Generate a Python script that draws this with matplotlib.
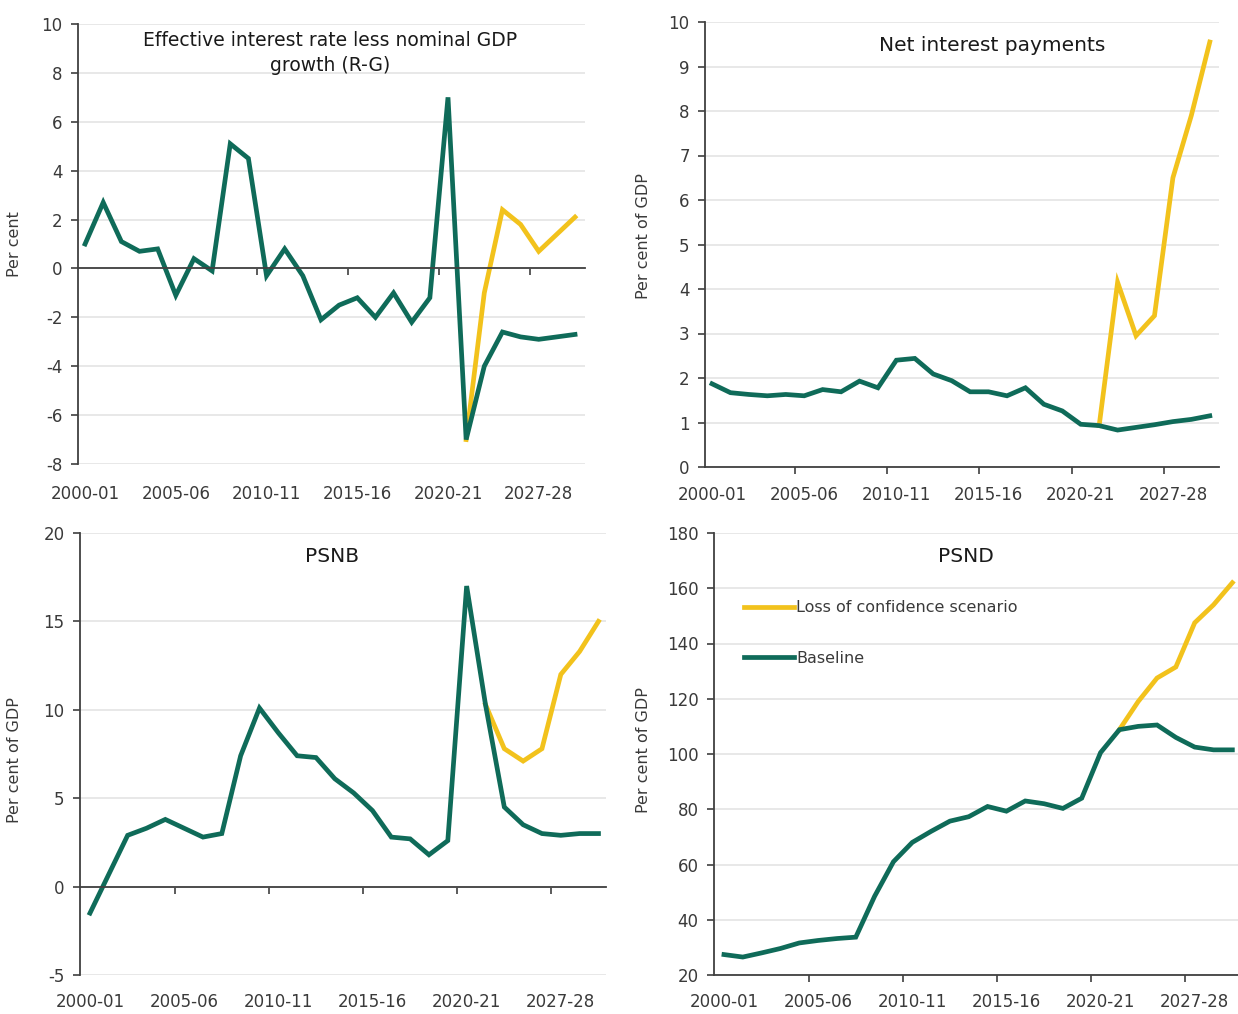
import matplotlib
matplotlib.use('Agg')
import matplotlib.pyplot as plt
import numpy as np

plt.rcParams['font.family'] = ['DejaVu Sans']
plt.rcParams['axes.unicode_minus'] = False

# Data (28 annual categories, only some are labelled)
n_years = 28
tick_pos = [0, 5, 10, 15, 20, 25]
tick_labels = ['2000-01', '2005-06', '2010-11', '2015-16', '2020-21', '2027-28']
nan = np.nan

rg_base = [1.0, 2.7, 1.1, 0.7, 0.8, -1.1, 0.4, -0.1, 5.1, 4.5, -0.3, 0.8, -0.3, -2.1,
           -1.5, -1.2, -2.0, -1.0, -2.2, -1.2, 7.0, -7.0, -4.0, -2.6, -2.8, -2.9, -2.8, -2.7]
rg_loc = [nan]*21 + [-7.0, -1.0, 2.4, 1.8, 0.7, 1.4, 2.1]

nip_base = [1.87, 1.67, 1.63, 1.6, 1.63, 1.6, 1.74, 1.69, 1.93, 1.78, 2.4, 2.44, 2.09, 1.94,
            1.69, 1.69, 1.6, 1.78, 1.41, 1.26, 0.96, 0.93, 0.83, 0.89, 0.95, 1.02, 1.07, 1.15]
nip_loc = [nan]*21 + [0.93, 4.15, 2.95, 3.4, 6.5, 7.9, 9.55]

psnb_base = [-1.5, 0.7, 2.9, 3.3, 3.8, 3.3, 2.8, 3.0, 7.4, 10.1, 8.7, 7.4, 7.3, 6.1,
             5.3, 4.3, 2.8, 2.7, 1.8, 2.6, 17.0, 10.3, 4.5, 3.5, 3.0, 2.9, 3.0, 3.0]
psnb_loc = [nan]*21 + [10.3, 7.8, 7.1, 7.8, 12.0, 13.3, 15.0]

psnd_base = [27.4, 26.5, 28.0, 29.6, 31.6, 32.5, 33.2, 33.7, 48.5, 61.0, 68.0, 72.0, 75.7, 77.3,
             81.0, 79.3, 83.0, 82.0, 80.3, 84.0, 100.5, 108.8, 110.0, 110.5, 106.0, 102.5, 101.5, 101.5]
psnd_loc = [nan]*21 + [108.8, 119.0, 127.5, 131.5, 147.5, 154.0, 162.0]

green = '#0f6b59'
yellow = '#f2c21c'
grid_c = '#e4e4e4'
axis_c = '#404040'
text_c = '#3a3a3a'

W, H = 1238, 1014
fig = plt.figure(figsize=(W/100, H/100), dpi=100)


def px_axes(left, right, top, bottom):
    return fig.add_axes([left/W, 1 - bottom/H, (right-left)/W, (bottom-top)/H])


def style(ax, base, loc, ylim, yticks, xlim, title, tpos, tsize, ylabel, ylpos, zero, xpad):
    x = np.arange(n_years)
    ax.plot(x, np.array(loc, dtype=float), color=yellow, lw=3.4, solid_joinstyle='miter',
            label='Loss of confidence scenario')
    ax.plot(x, base, color=green, lw=3.4, solid_joinstyle='miter', label='Baseline')
    ax.set_xlim(*xlim)
    ax.set_ylim(*ylim)
    ax.set_yticks(yticks)
    ax.yaxis.grid(True, color=grid_c, lw=1.2)
    ax.set_axisbelow(True)
    for s in ['top', 'right']:
        ax.spines[s].set_visible(False)
    ax.spines['left'].set_color(axis_c)
    ax.spines['left'].set_linewidth(1.3)
    ax.spines['bottom'].set_position(('data', zero))
    ax.spines['bottom'].set_color(axis_c)
    ax.spines['bottom'].set_linewidth(1.3)
    ax.tick_params(axis='y', colors=axis_c, labelcolor=text_c, labelsize=12, length=5,
                   width=1.2, pad=6)
    # tick marks between categories on the main axis, labels on a secondary axis
    ax.set_xticks(np.arange(4.5, n_years, 5), minor=True)
    ax.set_xticks([])
    ax.tick_params(axis='x', which='minor', length=5, width=1.2, colors=axis_c)
    sec = ax.secondary_xaxis('bottom')
    sec.set_xticks(tick_pos, tick_labels)
    sec.tick_params(length=0, labelsize=12, labelcolor=text_c, pad=xpad)
    sec.spines['bottom'].set_visible(False)
    ax.text(tpos[0], tpos[1], title, transform=ax.transAxes, ha='center', va='center',
            fontsize=tsize, color='#1a1a1a', linespacing=1.35)
    ax.set_ylabel(ylabel, fontsize=11.5, color=text_c)
    ax.yaxis.set_label_coords(*ylpos)
    return ax


ax1 = px_axes(78, 585, 24, 464)
style(ax1, rg_base, rg_loc, (-8, 10), np.arange(-8, 11, 2), (-0.39, 27.55),
      'Effective interest rate less nominal GDP\ngrowth (R-G)', (0.497, 0.934), 13.5,
      'Per cent', (-0.11, 0.5), 0, 15)

ax2 = px_axes(705, 1219, 22, 467)
style(ax2, nip_base, nip_loc, (0, 10), np.arange(0, 11, 1), (-0.38, 27.5),
      'Net interest payments', (0.558, 0.948), 14.5, 'Per cent of GDP', (-0.105, 0.52), 0, 14)

ax3 = px_axes(80, 606, 533, 975)
style(ax3, psnb_base, psnb_loc, (-5, 20), np.arange(-5, 21, 5), (-0.53, 27.4),
      'PSNB', (0.48, 0.946), 14.5, 'Per cent of GDP', (-0.11, 0.486), 0, 13)

ax4 = px_axes(714, 1238, 533, 975)
style(ax4, psnd_base, psnd_loc, (20, 180), np.arange(20, 181, 20), (-0.53, 27.3),
      'PSND', (0.481, 0.946), 14.5, 'Per cent of GDP', (-0.12, 0.51), 20, 13)
ax4.legend(loc='upper left', bbox_to_anchor=(0.03, 0.88), frameon=False, fontsize=11.5,
           handlelength=3.1, handletextpad=0.15, labelspacing=2.2, labelcolor=text_c)

fig.savefig('out.png', dpi=100)
